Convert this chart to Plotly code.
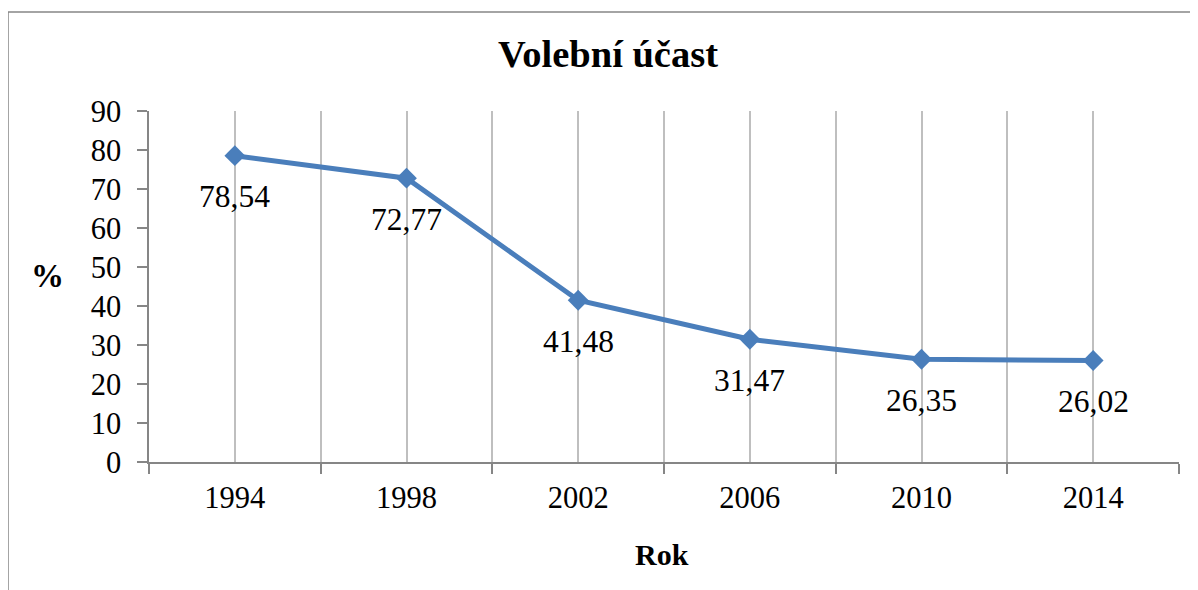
import plotly.graph_objects as go

years = ["1994", "1998", "2002", "2006", "2010", "2014"]
turnout = [78.54, 72.77, 41.48, 31.47, 26.35, 26.02]
y_ticks = [0, 10, 20, 30, 40, 50, 60, 70, 80, 90]

title_text = "Volební účast"
x_title = "Rok"
y_title = "%"

FONT = "Liberation Serif, Times New Roman, serif"
LINE_COLOR = "#4A7EBB"
AXIS_COLOR = "#868686"
GRID_COLOR = "#BFBFBF"

OFF = 8  # page body margin
W, H = 1198, 590
L, R, T, B = 149 - OFF, 1198 - (1179 - OFF), 111 - OFF, 590 - (462 - OFF)
pw, ph = W - L - R, H - T - B


def px_to_paper_x(px):
    return (px - OFF - L) / pw


def px_to_paper_y(py):
    return (H - B - (py - OFF)) / ph


xpos = list(range(len(years)))
labels = [f"{v:.2f}".replace(".", ",") for v in turnout]

fig = go.Figure()
fig.add_trace(go.Scatter(
    x=xpos, y=turnout, mode="lines+markers",
    line=dict(color=LINE_COLOR, width=5),
    marker=dict(symbol="diamond", size=16, color=LINE_COLOR),
    hoverinfo="skip", showlegend=False, cliponaxis=False,
))

annotations = []
for xi, v, t in zip(xpos, turnout, labels):
    annotations.append(dict(
        x=xi, y=v, xref="x", yref="y", text=t, showarrow=False,
        yanchor="middle", xanchor="center", yshift=-41,
        font=dict(family=FONT, size=31.5, color="#000000"),
    ))

annotations.append(dict(
    x=px_to_paper_x(608), y=px_to_paper_y(54), xref="paper", yref="paper",
    text=f"<b>{title_text}</b>", showarrow=False, xanchor="center", yanchor="middle",
    font=dict(family=FONT, size=38.5, color="#000000"),
))
annotations.append(dict(
    x=px_to_paper_x(662), y=px_to_paper_y(554), xref="paper", yref="paper",
    text=f"<b>{x_title}</b>", showarrow=False, xanchor="center", yanchor="middle",
    font=dict(family=FONT, size=30, color="#000000"),
))
annotations.append(dict(
    x=px_to_paper_x(47), y=px_to_paper_y(276), xref="paper", yref="paper",
    text=f"<b>{y_title}</b>", showarrow=False, xanchor="center", yanchor="middle",
    font=dict(family=FONT, size=33, color="#000000"),
))

boundaries = [i - 0.5 for i in range(len(years) + 1)]

fig.update_layout(
    width=W, height=H,
    margin=dict(l=L, r=R, t=T, b=B, pad=0),
    paper_bgcolor="white", plot_bgcolor="white",
    font=dict(family=FONT, size=30, color="#000000"),
    annotations=annotations,
    shapes=[dict(
        type="rect", xref="paper", yref="paper",
        x0=px_to_paper_x(8), x1=px_to_paper_x(1260),
        y0=px_to_paper_y(650), y1=px_to_paper_y(12),
        line=dict(color=AXIS_COLOR, width=1.5), fillcolor="rgba(0,0,0,0)",
        layer="below",
    )],
    xaxis=dict(
        range=[-0.5, len(years) - 0.5],
        tickmode="array", tickvals=xpos, ticktext=years,
        ticks="", showgrid=True, gridcolor=GRID_COLOR, gridwidth=1.5,
        showline=True, linecolor=AXIS_COLOR, linewidth=1.5,
        zeroline=False, ticklabelstandoff=8,
        tickfont=dict(family=FONT, size=30.5, color="#000000"),
        minor=dict(tickmode="array", tickvals=boundaries, ticks="outside",
                   ticklen=10, tickcolor=AXIS_COLOR, tickwidth=1.5,
                   showgrid=True, gridcolor=GRID_COLOR, gridwidth=1.5),
        fixedrange=True,
    ),
    yaxis=dict(
        range=[0, 90], tickmode="array", tickvals=y_ticks,
        ticks="outside", ticklen=10, tickcolor=AXIS_COLOR, tickwidth=1.5,
        showgrid=False, zeroline=False,
        showline=True, linecolor=AXIS_COLOR, linewidth=1.5,
        ticklabelstandoff=10,
        tickfont=dict(family=FONT, size=30.5, color="#000000"),
        fixedrange=True,
    ),
)

fig.write_html("out.html")
